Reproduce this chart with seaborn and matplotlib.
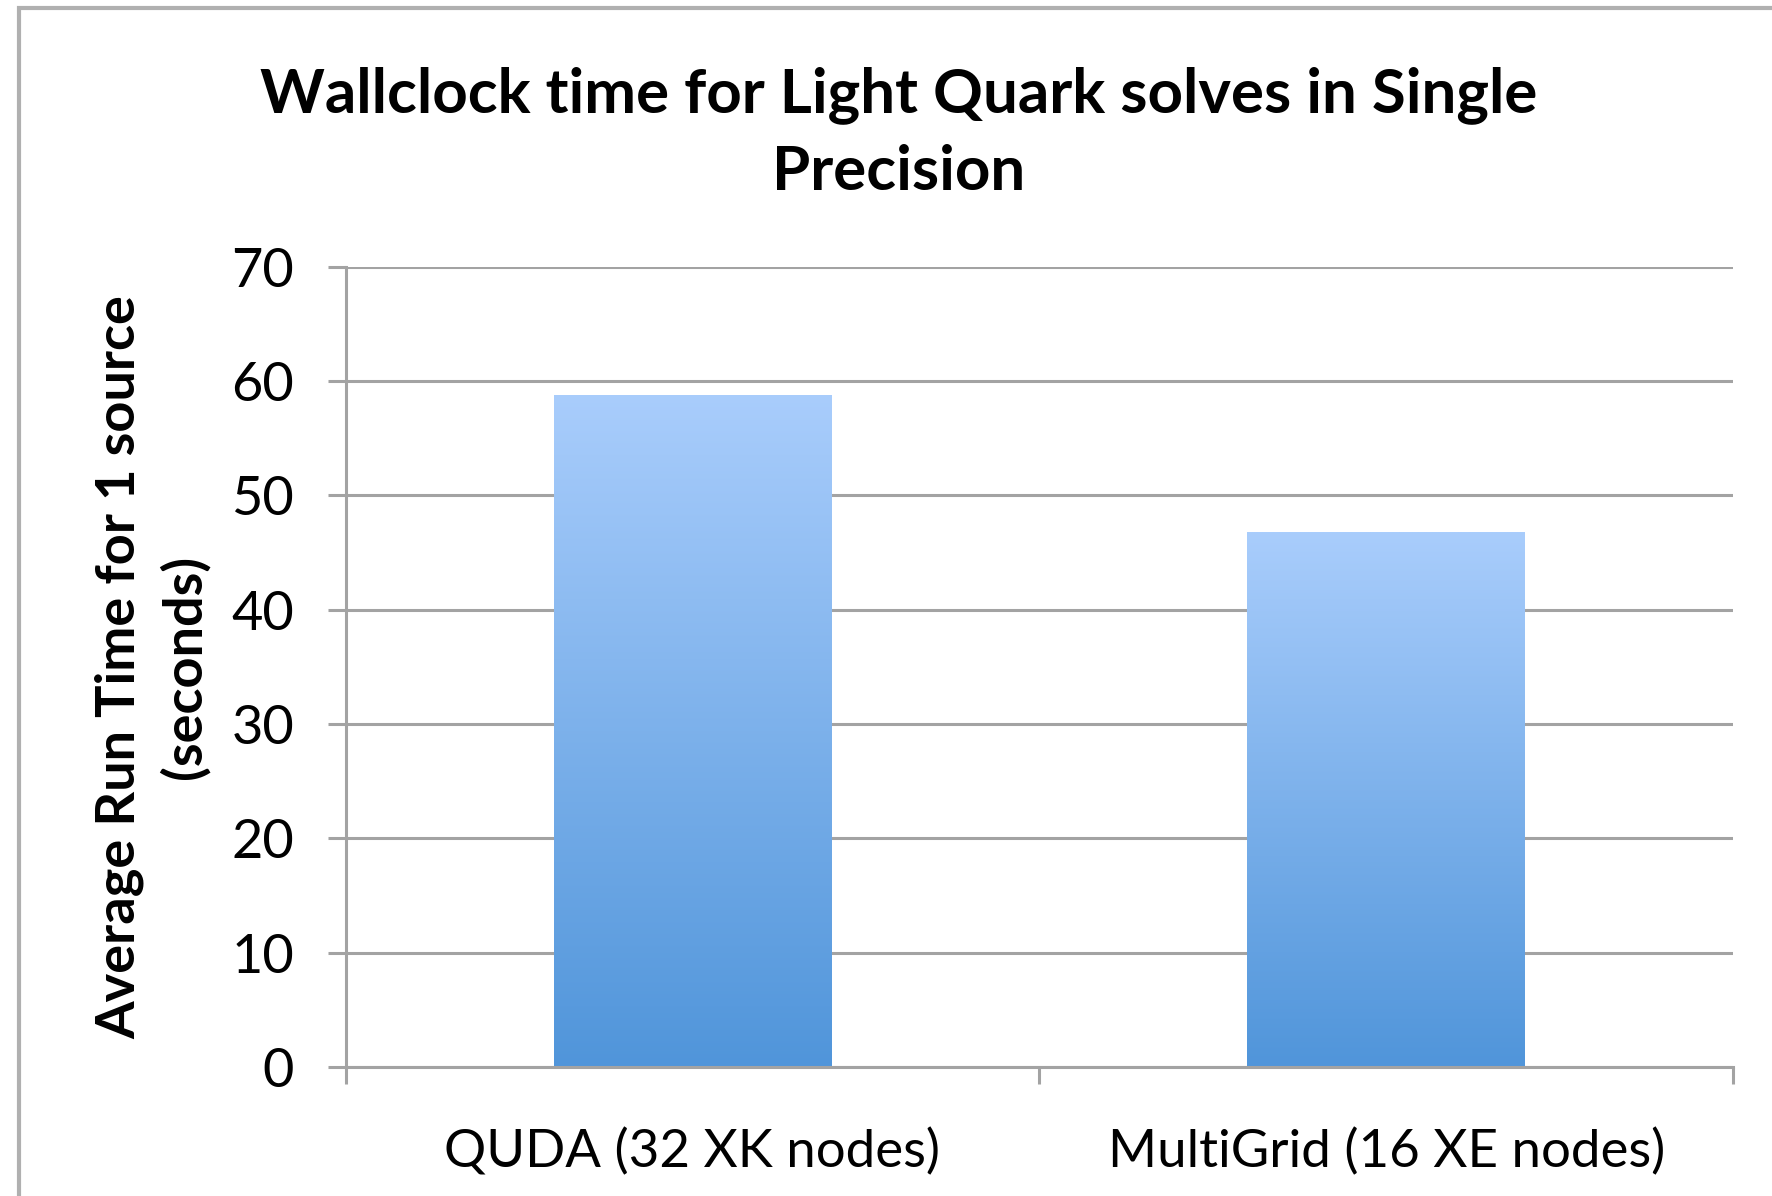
import matplotlib
matplotlib.use("Agg")
import matplotlib.pyplot as plt
import seaborn as sns
import pandas as pd
import numpy as np
from matplotlib.colors import LinearSegmentedColormap
from matplotlib.patches import Rectangle

# Data
categories = ['QUDA (32 XK nodes)', 'MultiGrid (16 XE nodes)']
run_times = [58.8, 46.8]
y_ticks = [0, 10, 20, 30, 40, 50, 60, 70]

df = pd.DataFrame({'setup': categories, 'time': run_times})

sns.set_theme(style='white')
plt.rcParams['font.family'] = ['Lato', 'DejaVu Sans']
plt.rcParams['text.color'] = 'black'
plt.rcParams['axes.labelcolor'] = 'black'
plt.rcParams['xtick.color'] = 'black'
plt.rcParams['ytick.color'] = 'black'

fig = plt.figure(figsize=(17.72, 11.96), dpi=100)
ax = fig.add_axes([0.195, 0.108, 0.783, 0.669])

sns.barplot(data=df, x='setup', y='time', ax=ax, width=0.40, color='#7fb2ea')

# gradient fill on each bar, light blue at the top to deeper blue at the base
grad_cmap = LinearSegmentedColormap.from_list('bar_grad', ['#5095da', '#a9cdfc'])
gradient = np.linspace(0, 1, 256).reshape(-1, 1)
for patch in ax.patches:
    x0, y0 = patch.get_x(), patch.get_y()
    w, h = patch.get_width(), patch.get_height()
    im = ax.imshow(gradient, cmap=grad_cmap, origin='lower', aspect='auto',
                   extent=[x0, x0 + w, y0, y0 + h], zorder=2)
    im.set_clip_path(patch)
    patch.set_edgecolor('none')

ax.set_xlim(-0.5, 1.5)
ax.set_ylim(0, 70)
ax.set_yticks(y_ticks)
ax.set_xticks([-0.5, 0.5, 1.5], minor=False)
ax.set_xticklabels(['', '', ''])
ax.set_xticks([0, 1], minor=True)
ax.set_xticklabels(categories, minor=True)

ax.yaxis.grid(True, color='#a3a3a3', linewidth=2.2, zorder=0)
ax.set_axisbelow(True)

for side in ['top', 'right']:
    ax.spines[side].set_visible(False)
for side in ['left', 'bottom']:
    ax.spines[side].set_color('#a3a3a3')
    ax.spines[side].set_linewidth(2.2)

ax.tick_params(axis='y', which='major', length=13, width=2.2, color='#a3a3a3',
               labelsize=39, pad=24, left=True, labelcolor='black')
ax.tick_params(axis='x', which='major', length=12, width=2.2, color='#a3a3a3',
               bottom=True, direction='out')
ax.tick_params(axis='x', which='minor', length=0, labelsize=38, pad=44,
               labelcolor='black')

ax.set_xlabel('')
ax.set_ylabel('Average Run Time for 1 source\n(seconds)', fontsize=39,
              fontweight='bold', labelpad=16, linespacing=1.35, color='black')

fig.suptitle('Wallclock time for Light Quark solves in Single\nPrecision',
             fontsize=44.5, fontweight='bold', x=0.507, y=0.945,
             linespacing=1.45, color='black')

# outer chart frame, only top and left edges fall inside the picture
fig.patches.append(Rectangle((0.011, -0.5), 1.5, 1.493, transform=fig.transFigure,
                             fill=False, edgecolor='#b0b0b0', linewidth=3))

fig.savefig('out.png', dpi=100)
